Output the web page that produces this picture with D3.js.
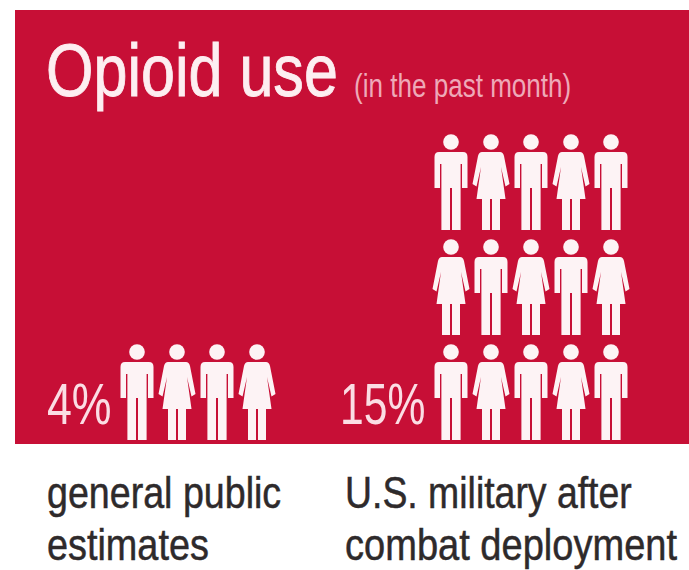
<!DOCTYPE html>
<html>
<head>
<meta charset="utf-8">
<script src="https://cdn.jsdelivr.net/npm/d3@7"></script>
<style>
  html, body { margin: 0; padding: 0; background: #fff; overflow: hidden; }
  svg { display: block; }
  text { font-family: "Liberation Sans", Arial, sans-serif; }
</style>
</head>
<body>
<script>
// Opioid use in the past month: one pictogram figure per percentage point.
const groups = ["general public estimates", "U.S. military after combat deployment"];
const percents = [4, 15];
const valueLabels = ["4%", "15%"];
const captionLines = [["general public", "estimates"], ["U.S. military after", "combat deployment"]];
const title = "Opioid use";
const subtitle = "(in the past month)";

const width = 689, height = 570;
const perRow = 5;

const svg = d3.select("body").append("svg").attr("width", width).attr("height", height);

const panel = { x: 15, y: 10, w: 674, h: 434 };
const red = "#c70f36";
svg.append("rect").attr("x", panel.x).attr("y", panel.y)
  .attr("width", panel.w).attr("height", panel.h).attr("fill", red);

// Scales: column slot within a group, and stacked row measured up from the baseline.
const colX = d3.scaleLinear().domain([0, 1]).range([0, 40]);
const rowY = d3.scaleLinear().domain([0, 1]).range([440, 335]);
const groupX = d3.scaleOrdinal().domain(groups).range([137, 451]);

// Figure outlines in a unit box: x is centred on the figure, y runs 0 (head top) to 96 (feet).
function manPath() {
  const p = d3.path();
  p.moveTo(-12, 18);
  p.lineTo(12, 18);
  p.quadraticCurveTo(16.5, 18, 16.5, 23);
  p.lineTo(16.5, 54);
  p.lineTo(11, 54);
  p.lineTo(11, 30);
  p.lineTo(9.6, 30);
  p.lineTo(9.6, 96);
  p.lineTo(1, 96);
  p.lineTo(1, 54);
  p.lineTo(-1, 54);
  p.lineTo(-1, 96);
  p.lineTo(-9.6, 96);
  p.lineTo(-9.6, 30);
  p.lineTo(-11, 30);
  p.lineTo(-11, 54);
  p.lineTo(-16.5, 54);
  p.lineTo(-16.5, 23);
  p.quadraticCurveTo(-16.5, 18, -12, 18);
  p.closePath();
  return p.toString();
}
function womanPath() {
  const p = d3.path();
  p.moveTo(-9, 18);
  p.lineTo(9, 18);
  p.quadraticCurveTo(12, 18, 13, 22);
  p.lineTo(18.5, 50);
  p.lineTo(14.5, 52.5);
  p.lineTo(10, 33);
  p.lineTo(14.5, 65);
  p.lineTo(9, 65);
  p.lineTo(9, 96);
  p.lineTo(1, 96);
  p.lineTo(1, 65);
  p.lineTo(-1, 65);
  p.lineTo(-1, 96);
  p.lineTo(-9, 96);
  p.lineTo(-9, 65);
  p.lineTo(-14.5, 65);
  p.lineTo(-10, 33);
  p.lineTo(-14.5, 52.5);
  p.lineTo(-18.5, 50);
  p.lineTo(-13, 22);
  p.quadraticCurveTo(-12, 18, -9, 18);
  p.closePath();
  return p.toString();
}

const figures = groups.flatMap((g, gi) =>
  d3.range(percents[gi]).map(i => ({
    group: g,
    col: i % perRow,
    row: Math.floor(i / perRow),
    woman: i % 2 === 1
  }))
);

const fig = svg.selectAll("g.figure").data(figures).join("g")
  .attr("class", "figure")
  .attr("transform", d => `translate(${groupX(d.group) + colX(d.col)},${rowY(d.row) - 96})`)
  .attr("fill", "#fdf3f5");
fig.append("circle").attr("cx", 0).attr("cy", 8).attr("r", 7.8);
fig.append("path").attr("d", d => d.woman ? womanPath() : manPath());

// Type is condensed horizontally: each text sits in a group that narrows x only.
function squeezed(x, y, str, size, sx, fill, heft) {
  svg.append("text")
    .attr("transform", `translate(${x},${y}) scale(${sx},1)`)
    .attr("font-size", size).attr("fill", fill)
    .attr("stroke", fill).attr("stroke-width", heft)
    .text(str);
}

squeezed(46, 96, title, 74, 0.825, "#fdeef1", 0.9);
squeezed(354, 97, subtitle, 33, 0.79, "#eea9b8", 0);

const labelX = [47, 340];
const labelSx = [0.77, 0.735];
valueLabels.forEach((t, i) => squeezed(labelX[i], 424, t, 58, labelSx[i], "#fbdde4", 0));

const captionX = [47, 345];
const captionY = [508, 560];
const captionSx = [[0.855, 0.86], [0.85, 0.865]];
captionLines.forEach((lines, i) => lines.forEach((line, j) =>
  squeezed(captionX[i], captionY[j], line, 44, captionSx[i][j], "#2e2a2b", 0.5)));
</script>
</body>
</html>
